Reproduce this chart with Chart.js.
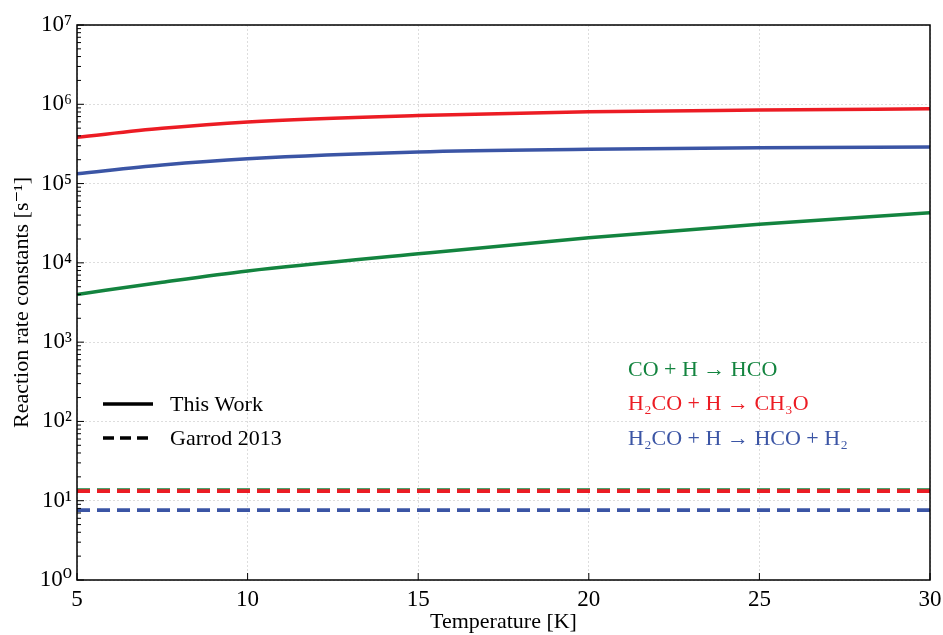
<!DOCTYPE html>
<html>
<head>
<meta charset="utf-8">
<script src="https://cdn.jsdelivr.net/npm/chart.js@4/dist/chart.umd.min.js"></script>
<style>
  html, body { margin: 0; padding: 0; background: #fff; }
  #wrap { width: 943px; height: 635px; }
</style>
</head>
<body>
<div id="wrap"><canvas id="rateChart" width="943" height="635"></canvas></div>
<script>
const temps = [5, 7.5, 10, 15, 20, 25, 30];
const coToHco = [4.0e3, 5.7e3, 7.9e3, 1.30e4, 2.07e4, 3.06e4, 4.28e4];
const h2coToCh3o = [3.83e5, 4.97e5, 5.97e5, 7.2e5, 8.04e5, 8.45e5, 8.77e5];
const h2coToHcoH2 = [1.33e5, 1.71e5, 2.05e5, 2.50e5, 2.70e5, 2.83e5, 2.89e5];

const garrodTemps = [5, 30];
const garrodCo = [13.6, 13.6];
const garrodH2coCh3o = [13.2, 13.2];
const garrodH2coHco = [7.6, 7.6];

const xTicks = [5, 10, 15, 20, 25, 30];
const yDecades = [0, 1, 2, 3, 4, 5, 6, 7];

const reactionLabels = [
  { text: 'CO + H \u2192 HCO', color: '#13843f' },
  { text: 'H\u2082CO + H \u2192 CH\u2083O', color: '#ec1c24' },
  { text: 'H\u2082CO + H \u2192 HCO + H\u2082', color: '#3b55a5' }
];
const styleLabels = [
  { text: 'This Work', dash: [] },
  { text: 'Garrod 2013', dash: [11, 6] }
];

const GREEN = '#13843f', RED = '#ec1c24', BLUE = '#3b55a5';
const FONT = "'Liberation Serif', 'DejaVu Serif', serif";
const sup = { '0': '\u2070', '1': '\u00b9', '2': '\u00b2', '3': '\u00b3', '4': '\u2074',
  '5': '\u2075', '6': '\u2076', '7': '\u2077', '8': '\u2078', '9': '\u2079' };

function pts(xs, ys) {
  return xs.map((x, i) => ({ x: x, y: ys[i] }));
}

function solid(data, color, order) {
  return { data: pts(temps, data), borderColor: color, borderWidth: 3.5, pointRadius: 0,
    cubicInterpolationMode: 'monotone', fill: false, order: order };
}
function dashed(data, color, order) {
  return { data: pts(garrodTemps, data), borderColor: color, borderWidth: 3.8, pointRadius: 0,
    borderDash: [13, 7], borderCapStyle: 'butt', fill: false, order: order };
}

// frame, inward ticks and the two text legends
const decorations = {
  id: 'decorations',
  afterDatasetsDraw(chart) {
    const { ctx, chartArea: a, scales } = chart;
    ctx.save();
    ctx.strokeStyle = '#000';
    ctx.lineWidth = 1.5;
    ctx.strokeRect(a.left, a.top, a.right - a.left, a.bottom - a.top);

    ctx.lineWidth = 1;
    ctx.beginPath();
    yDecades.forEach(e => {
      const yp = scales.y.getPixelForValue(Math.pow(10, e));
      ctx.moveTo(a.left, yp); ctx.lineTo(a.left + 7, yp);
      if (e < 7) {
        for (let m = 2; m <= 9; m++) {
          const ym = scales.y.getPixelForValue(m * Math.pow(10, e));
          ctx.moveTo(a.left, ym); ctx.lineTo(a.left + 4, ym);
        }
      }
    });
    xTicks.forEach(t => {
      const xp = scales.x.getPixelForValue(t);
      ctx.moveTo(xp, a.bottom); ctx.lineTo(xp, a.bottom - 7);
    });
    ctx.stroke();
    ctx.restore();
  },
  afterDraw(chart) {
    const { ctx, chartArea: a } = chart;
    ctx.save();
    ctx.font = '22px ' + FONT;
    ctx.textBaseline = 'middle';

    styleLabels.forEach((s, i) => {
      const y = a.top + 379 + i * 34;
      ctx.strokeStyle = '#000';
      ctx.lineWidth = 3.5;
      ctx.lineCap = 'butt';
      ctx.setLineDash(s.dash);
      ctx.beginPath();
      ctx.moveTo(a.left + 26, y); ctx.lineTo(a.left + 76, y);
      ctx.stroke();
      ctx.setLineDash([]);
      ctx.fillStyle = '#000';
      ctx.fillText(s.text, a.left + 93, y + 1);
    });

    reactionLabels.forEach((r, i) => {
      ctx.fillStyle = r.color;
      ctx.fillText(r.text, a.left + 551, a.top + 345 + i * 34.5);
    });
    ctx.restore();
  }
};

const ctx = document.getElementById('rateChart').getContext('2d');
new Chart(ctx, {
  type: 'line',
  data: {
    datasets: [
      solid(coToHco, GREEN, 2),
      solid(h2coToCh3o, RED, 1),
      solid(h2coToHcoH2, BLUE, 0),
      dashed(garrodCo, GREEN, 6),
      dashed(garrodH2coCh3o, RED, 5),
      dashed(garrodH2coHco, BLUE, 4)
    ]
  },
  options: {
    responsive: false,
    animation: false,
    layout: { padding: { top: 25, right: 13, left: 0, bottom: 0 } },
    plugins: {
      legend: { display: false },
      tooltip: { enabled: false }
    },
    scales: {
      x: {
        type: 'linear',
        min: 5,
        max: 30,
        afterBuildTicks: s => { s.ticks = xTicks.map(v => ({ value: v })); },
        afterFit: s => { s.height = 55; s.paddingLeft = 0; s.paddingRight = 0; },
        ticks: { color: '#000', padding: 6, font: { family: FONT, size: 23 }, maxRotation: 0 },
        grid: { color: '#dddddd', lineWidth: 1, drawTicks: false },
        border: { display: false, dash: [2, 2] },
        title: { display: true, text: 'Temperature [K]', color: '#000',
          font: { family: FONT, size: 22 }, padding: { top: 0, bottom: 0 } }
      },
      y: {
        type: 'logarithmic',
        min: 1,
        max: 1e7,
        afterBuildTicks: s => { s.ticks = yDecades.map(e => ({ value: Math.pow(10, e) })); },
        afterFit: s => { s.width = 77; },
        ticks: {
          color: '#000',
          padding: 5,
          font: { family: FONT, size: 23 },
          callback: v => {
            const e = Math.round(Math.log10(v));
            return '10' + String(e).split('').map(c => sup[c]).join('');
          }
        },
        grid: { color: '#dddddd', lineWidth: 1, drawTicks: false },
        border: { display: false, dash: [2, 2] },
        title: { display: true, text: 'Reaction rate constants [s\u207b\u00b9]', color: '#000',
          font: { family: FONT, size: 22 }, padding: { top: 9, bottom: 0 } }
      }
    }
  },
  plugins: [decorations]
});
</script>
</body>
</html>
